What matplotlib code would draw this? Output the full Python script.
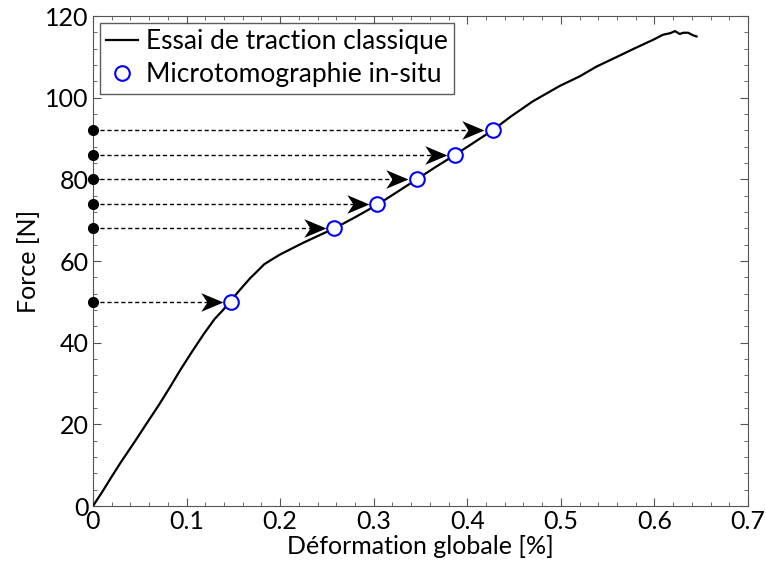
import matplotlib
matplotlib.use("Agg")
import matplotlib.pyplot as plt
from matplotlib.ticker import MultipleLocator
from matplotlib.path import Path

# Curve
curve_x = [0.0, 0.01, 0.02, 0.03, 0.045, 0.057, 0.07, 0.082, 0.093, 0.105, 0.118, 0.13, 0.139, 0.148,
           0.158, 0.168, 0.176, 0.183, 0.192, 0.2, 0.212, 0.225, 0.24, 0.258, 0.28, 0.304, 0.325,
           0.346, 0.366, 0.387, 0.407, 0.427, 0.446, 0.47, 0.499, 0.52, 0.538, 0.56, 0.58, 0.598,
           0.609, 0.617, 0.622, 0.627, 0.631, 0.636, 0.641, 0.645]
curve_y = [0.0, 3.5, 7.2, 10.8, 15.9, 20.1, 24.6, 29.0, 33.2, 37.5, 42.0, 45.8, 48.0, 50.5,
           53.2, 55.8, 57.6, 59.2, 60.5, 61.6, 63.0, 64.5, 66.1, 68.0, 70.7, 73.8, 76.9,
           80.0, 83.0, 86.0, 89.0, 92.0, 95.3, 99.1, 102.9, 105.2, 107.6, 110.0, 112.2, 114.1,
           115.4, 115.8, 116.3, 115.6, 115.9, 115.9, 115.3, 115.0]

pts_x = [0.148, 0.258, 0.304, 0.346, 0.387, 0.427]
pts_y = [50, 68, 74, 80, 86, 92]

plt.rcParams['font.family'] = ['Lato', 'DejaVu Sans']
fig = plt.figure(figsize=(7.66, 5.68), dpi=100)
ax = fig.add_axes([93/766, 62/568, 655/766, 490/568])
fs = 18

ax.plot(curve_x, curve_y, color='black', lw=1.6, label='Essai de traction classique', zorder=3)

# concave arrowhead marker with tip at origin
head = Path([(0, 0), (-1.0, 0.42), (-0.72, 0), (-1.0, -0.42), (0, 0)],
            [Path.MOVETO, Path.LINETO, Path.LINETO, Path.LINETO, Path.CLOSEPOLY])

for x, y in zip(pts_x, pts_y):
    tip = x - 0.009
    ax.plot([0, tip - 0.01], [y, y], ls=(0, (3, 2)), color='black', lw=1.0, zorder=4)
    ax.plot([tip], [y], marker=head, ms=32, color='black', mew=0, ls='none', zorder=4)
    ax.plot([0], [y], 'o', color='black', ms=7, clip_on=False, zorder=5)

ax.plot(pts_x, pts_y, 'o', mfc='white', mec='#0000ff', mew=1.5, ms=10.5, ls='none',
        label='Microtomographie in-situ', zorder=6)

ax.set_xlim(0, 0.7)
ax.set_ylim(0, 120)
ax.xaxis.set_major_locator(MultipleLocator(0.1))
ax.xaxis.set_minor_locator(MultipleLocator(0.02))
ax.yaxis.set_major_locator(MultipleLocator(20))
ax.yaxis.set_minor_locator(MultipleLocator(4))
ax.set_xticks([0, 0.1, 0.2, 0.3, 0.4, 0.5, 0.6, 0.7])
ax.set_xticklabels(['0', '0.1', '0.2', '0.3', '0.4', '0.5', '0.6', '0.7'])
ax.tick_params(which='both', direction='in', top=True, right=True, colors='#555555',
               labelcolor='black', labelsize=fs)
ax.tick_params(which='major', length=6, pad=3)
ax.tick_params(which='minor', length=3)
for s in ax.spines.values():
    s.set_color('#555555')
ax.set_xlabel('Déformation globale [%]', fontsize=fs, labelpad=1)
ax.set_ylabel('Force [N]', fontsize=fs, labelpad=4)

leg = ax.legend(loc='upper left', fontsize=19, frameon=True, fancybox=False, handlelength=1.2,
                handletextpad=0.3, borderpad=0.25, labelspacing=0.3, borderaxespad=0.25)
leg.get_frame().set_edgecolor('#333333')
leg.get_frame().set_linewidth(1.0)

fig.savefig('out.png', dpi=100)
